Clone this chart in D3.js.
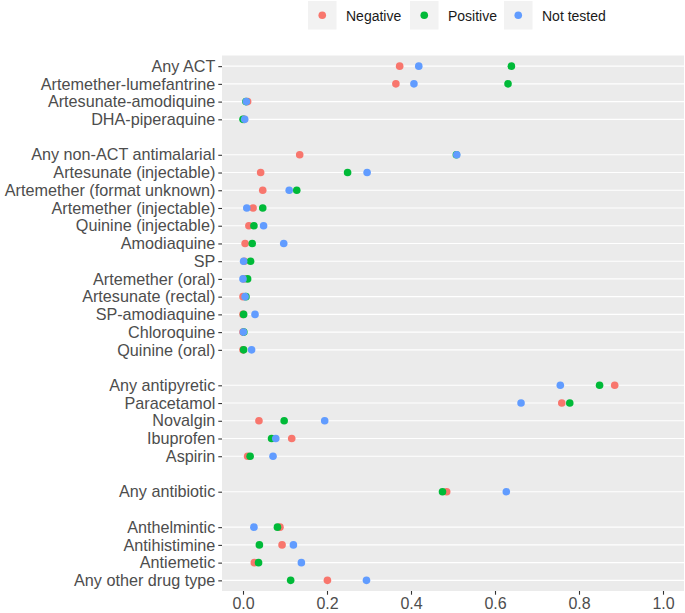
<!DOCTYPE html>
<html>
<head>
<meta charset="utf-8">
<script src="https://cdn.jsdelivr.net/npm/d3@7"></script>
<style>
  body { margin: 0; background: #fff; }
  svg { display: block; }
  text { font-family: "Liberation Sans", Arial, sans-serif; }
</style>
</head>
<body>
<svg id="chart" width="685" height="613"></svg>
<script>
// Categories (top to bottom); "" marks a blank spacer row
const categories = [
  "Any ACT", "Artemether-lumefantrine", "Artesunate-amodiquine", "DHA-piperaquine",
  "",
  "Any non-ACT antimalarial", "Artesunate (injectable)", "Artemether (format unknown)",
  "Artemether (injectable)", "Quinine (injectable)", "Amodiaquine", "SP",
  "Artemether (oral)", "Artesunate (rectal)", "SP-amodiaquine", "Chloroquine", "Quinine (oral)",
  "",
  "Any antipyretic", "Paracetamol", "Novalgin", "Ibuprofen", "Aspirin",
  "",
  "Any antibiotic",
  "",
  "Anthelmintic", "Antihistimine", "Antiemetic", "Any other drug type"
];

const seriesNames = ["Negative", "Positive", "Not tested"];
const seriesColors = ["#F8766D", "#00BA38", "#619CFF"];

// values per category (null for spacer rows)
const negative = [
  0.373, 0.364, 0.011, 0.003,
  null,
  0.135, 0.042, 0.047, 0.024, 0.014, 0.005, 0.003, 0.002, 0.000, 0.000, 0.000, 0.000,
  null,
  0.885, 0.759, 0.038, 0.116, 0.011,
  null,
  0.485,
  null,
  0.088, 0.093, 0.027, 0.201
];
const positive = [
  0.639, 0.631, 0.007, 0.000,
  null,
  0.508, 0.249, 0.128, 0.047, 0.026, 0.022, 0.018, 0.011, 0.007, 0.0015, 0.002, 0.0015,
  null,
  0.849, 0.778, 0.098, 0.068, 0.017,
  null,
  0.475,
  null,
  0.082, 0.039, 0.037, 0.1135
];
const notTested = [
  0.4185, 0.407, 0.008, 0.004,
  null,
  0.509, 0.2955, 0.110, 0.009, 0.049, 0.097, 0.0015, 0.000, 0.005, 0.0286, 0.001, 0.0205,
  null,
  0.7555, 0.662, 0.1945, 0.078, 0.0715,
  null,
  0.627,
  null,
  0.026, 0.120, 0.139, 0.294
];
const xTicks = [0, 0.2, 0.4, 0.6, 0.8, 1.0];

const seriesValues = [negative, positive, notTested];

const svg = d3.select("#chart");
const panel = { left: 222, right: 684, top: 55.5, bottom: 591 };

const x = d3.scaleLinear().domain([-0.05, 1.05]).range([panel.left, panel.right]);
const slots = d3.range(categories.length);
const y = d3.scalePoint().domain(slots).range([panel.top, panel.bottom]).padding(0.6);

// panel background
svg.append("rect")
  .attr("x", panel.left).attr("y", panel.top)
  .attr("width", panel.right - panel.left).attr("height", panel.bottom - panel.top)
  .attr("fill", "#EBEBEB");

// horizontal gridlines (only for real categories)
svg.append("g").selectAll("line")
  .data(slots.filter(i => categories[i] !== ""))
  .join("line")
  .attr("x1", panel.left).attr("x2", panel.right)
  .attr("y1", i => y(i)).attr("y2", i => y(i))
  .attr("stroke", "#FFFFFF").attr("stroke-width", 1.1);

// y axis
const yAxis = d3.axisLeft(y)
  .tickValues(slots.filter(i => categories[i] !== ""))
  .tickFormat(i => categories[i])
  .tickSize(3.7).tickPadding(3);
const gy = svg.append("g").attr("transform", `translate(${panel.left},0)`).call(yAxis);
gy.select(".domain").remove();
gy.selectAll(".tick line").attr("stroke", "#333333").attr("stroke-width", 1.1);
gy.selectAll(".tick text").attr("fill", "#4D4D4D").style("font-size", "16.2px")
  .style("font-family", "'Liberation Sans', Arial, sans-serif");

// x axis
const xAxis = d3.axisBottom(x).tickValues(xTicks).tickFormat(d3.format(".1f"))
  .tickSize(3.7).tickPadding(3);
const gx = svg.append("g").attr("transform", `translate(0,${panel.bottom})`).call(xAxis);
gx.select(".domain").remove();
gx.selectAll(".tick line").attr("stroke", "#333333").attr("stroke-width", 1.1);
gx.selectAll(".tick text").attr("fill", "#4D4D4D").style("font-size", "16px")
  .style("font-family", "'Liberation Sans', Arial, sans-serif");

// points: drawn in series order (Negative, Positive, Not tested)
seriesValues.forEach((vals, s) => {
  svg.append("g").selectAll("circle")
    .data(slots.filter(i => vals[i] !== null))
    .join("circle")
    .attr("cx", i => x(vals[i]))
    .attr("cy", i => y(i))
    .attr("r", 3.8)
    .attr("fill", seriesColors[s]);
});

// legend
const legendItems = [
  { name: seriesNames[0], color: seriesColors[0], kx: 308 },
  { name: seriesNames[1], color: seriesColors[1], kx: 410 },
  { name: seriesNames[2], color: seriesColors[2], kx: 504 }
];
const lg = svg.append("g");
legendItems.forEach(it => {
  lg.append("rect").attr("x", it.kx).attr("y", 1).attr("width", 28.5).attr("height", 28.5)
    .attr("fill", "#F2F2F2");
  lg.append("circle").attr("cx", it.kx + 14.25).attr("cy", 15.25).attr("r", 3.8).attr("fill", it.color);
  lg.append("text").attr("x", it.kx + 38).attr("y", 20.5).attr("fill", "#1A1A1A")
    .style("font-size", "14px").text(it.name);
});
</script>
</body>
</html>
